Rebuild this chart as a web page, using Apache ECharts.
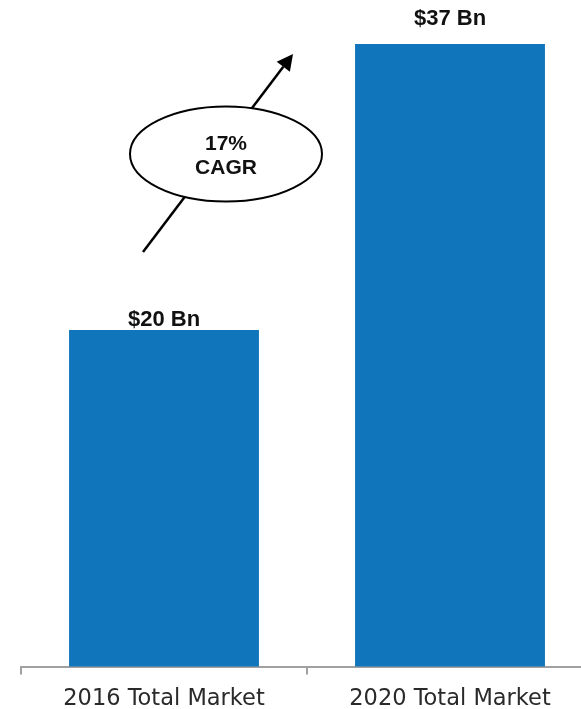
<!DOCTYPE html>
<html><head><meta charset="utf-8">
<script src="https://cdn.jsdelivr.net/npm/echarts@6/dist/echarts.min.js"></script>
<style>html,body{margin:0;padding:0;background:#fff}#c{width:581px;height:709px}</style>
</head><body><div id="c"></div>
<script>
const categories = ['2016 Total Market', '2020 Total Market'];
const values = [20, 37];
const valueLabels = ['$20 Bn', '$37 Bn'];
const labelDistances = [-1, 14];
const cagrText = ['17%', 'CAGR'];

const chart = echarts.init(document.getElementById('c'));
chart.setOption({
  animation: false,
  grid: { left: 21, width: 572, top: 44, bottom: 42.5, containLabel: false, outerBoundsMode: 'none' },
  xAxis: {
    type: 'category', data: categories, boundaryGap: true,
    axisLine: { show: true, lineStyle: { color: '#a0a0a0', width: 2 } },
    axisTick: { show: true, interval: 0, length: 8, lineStyle: { color: '#a0a0a0', width: 2 } },
    axisLabel: { margin: 21, fontSize: 22.5, color: '#2a2a2a', fontFamily: 'DejaVu Sans' }
  },
  yAxis: { type: 'value', min: 0, max: 37, show: false, splitLine: { show: false } },
  series: [{
    type: 'bar', barWidth: '66.4%', itemStyle: { color: '#1075ba' },
    data: values.map((v, i) => ({
      value: v,
      label: { show: true, position: 'top', distance: labelDistances[i], formatter: valueLabels[i],
        fontSize: 22, fontWeight: 'bold', color: '#111', fontFamily: 'Liberation Sans' }
    }))
  }],
  graphic: [
    { type: 'line', shape: { x1: 143, y1: 252, x2: 283.3, y2: 66.8 }, style: { stroke: '#000', lineWidth: 2.5 }, z: 10 },
    { type: 'polygon', shape: { points: [[293, 54], [289.9, 71.8], [276.7, 61.8]] }, style: { fill: '#000' }, z: 10 },
    { type: 'ellipse', shape: { cx: 226, cy: 154, rx: 96, ry: 47.5 }, style: { fill: '#fff', stroke: '#000', lineWidth: 2 }, z: 11 },
    { type: 'text', x: 226, y: 156, z: 12, style: { text: cagrText.join('\n'), align: 'center', verticalAlign: 'middle',
      fontSize: 21, fontWeight: 'bold', lineHeight: 24, fill: '#111', fontFamily: 'Liberation Sans' } }
  ]
});
</script></body></html>
